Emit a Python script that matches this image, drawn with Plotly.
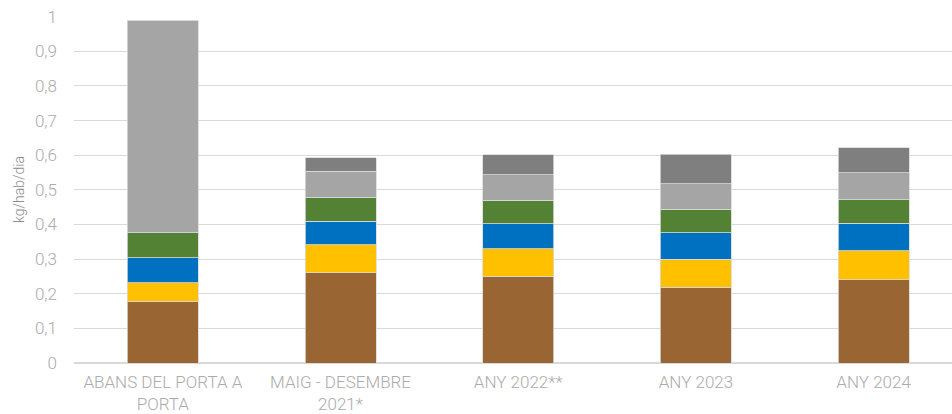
import plotly.graph_objects as go

categories = ["ABANS DEL PORTA A<br>PORTA", "MAIG - DESEMBRE<br>2021*", "ANY 2022**", "ANY 2023", "ANY 2024"]
organica = [0.179, 0.260, 0.251, 0.219, 0.241]
envasos = [0.053, 0.081, 0.079, 0.081, 0.083]
paper = [0.072, 0.069, 0.072, 0.076, 0.079]
vidre = [0.072, 0.069, 0.068, 0.068, 0.069]
rebuig = [0.614, 0.074, 0.074, 0.074, 0.078]
altres = [0.0, 0.039, 0.058, 0.085, 0.072]
y_ticks = [0, 0.1, 0.2, 0.3, 0.4, 0.5, 0.6, 0.7, 0.8, 0.9, 1]
y_ticktext = ["0", "0,1", "0,2", "0,3", "0,4", "0,5", "0,6", "0,7", "0,8", "0,9", "1"]

series = [
    ("Orgànica", organica, "#996633"),
    ("Envasos", envasos, "#FFC000"),
    ("Paper i cartró", paper, "#0070C0"),
    ("Vidre", vidre, "#548235"),
    ("Rebuig", rebuig, "#A5A5A5"),
    ("Altres", altres, "#7F7F7F"),
]

fig = go.Figure()
for name, vals, color in series:
    fig.add_trace(go.Bar(
        x=categories, y=vals, name=name,
        marker=dict(color=color, line=dict(color="#D9D9D9", width=0.8)),
        width=0.4, showlegend=False,
    ))

font_fam = "Roboto"
gray = "#ABABAB"
fig.update_layout(
    barmode="stack",
    width=952, height=414,
    margin=dict(l=73.5, r=0, t=16, b=51.3, autoexpand=False),
    plot_bgcolor="white", paper_bgcolor="white",
    separators=", ",
    font=dict(family=font_fam, size=17, color=gray, weight=300),
    xaxis=dict(
        range=[-0.5, 4.441], showgrid=False, showline=False, zeroline=False,
        tickfont=dict(size=17, color=gray, weight=300), ticklabelstandoff=7,
    ),
    yaxis=dict(
        range=[0, 1.002], tickmode="array", tickvals=y_ticks, ticktext=y_ticktext,
        showgrid=True, gridcolor="#D9D9D9", gridwidth=1,
        zeroline=True, zerolinecolor="#D9D9D9", zerolinewidth=1.5,
        tickfont=dict(size=17, color=gray, weight=300), ticklabelstandoff=16,
    ),
    annotations=[dict(
        text="kg/hab/dia", textangle=-90, xref="paper", yref="paper",
        x=(18 - 73.5) / 878.5, y=0.5, xanchor="center", yanchor="middle",
        showarrow=False, font=dict(size=14, color="#8C8C8C", weight=300),
    )],
)

fig.write_html(
    "out.html",
    config={"displayModeBar": False},
    post_script="document.body.style.margin='0';document.body.style.overflow='hidden';",
)
